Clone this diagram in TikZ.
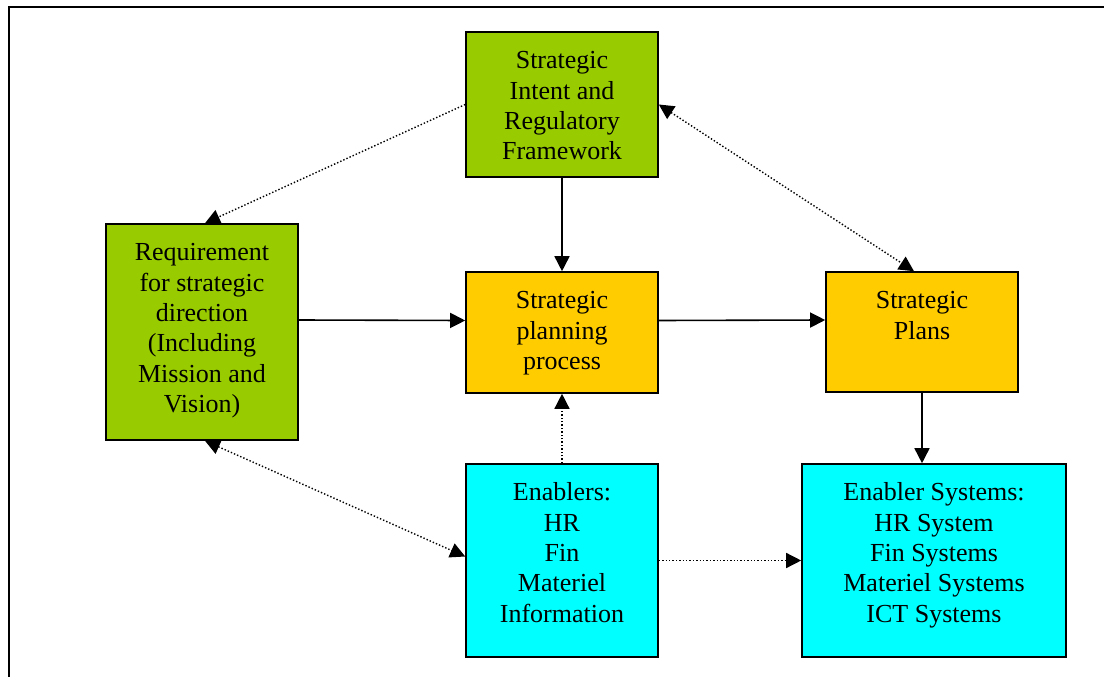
\documentclass[tikz,border=0pt]{standalone}
\usepackage{fontspec}
\setmainfont{Liberation Serif}
\usetikzlibrary{arrows.meta}
\definecolor{cgreen}{HTML}{99CC00}
\definecolor{corange}{HTML}{FFCC00}
\definecolor{ccyan}{HTML}{00FFFF}
\newcommand\fl{\rule{0pt}{20pt}}
\tikzset{
  box/.style={draw=black, line width=1.6pt, minimum width=#1, inner sep=0pt},
  txt/.style={anchor=north, inner sep=0pt, align=center, font=\fontsize{26}{30.3}\selectfont},
  arr/.style={line width=1.6pt, -{Triangle[length=15pt,width=15pt]}},
  darr/.style={line width=1.4pt, dash pattern=on 1.4pt off 2pt, -{Triangle[length=15pt,width=15pt]}},
  ddarr/.style={line width=1.4pt, dash pattern=on 1.4pt off 2pt, {Triangle[length=15pt,width=15pt]}-{Triangle[length=15pt,width=15pt]}},
}
\begin{document}
\begin{tikzpicture}[x=1pt,y=-1pt]
\useasboundingbox (0,0) rectangle (1104,677);
\draw[line width=2.2pt] (9,680) -- (9,7) -- (1106,7);
% boxes
\node[box=192pt, minimum height=145pt, fill=cgreen] (si) at (562,104.5) {};
\node[box=192pt, minimum height=216pt, fill=cgreen] (req) at (202,332) {};
\node[box=192pt, minimum height=121pt, fill=corange] (spp) at (562,332.5) {};
\node[box=192pt, minimum height=120pt, fill=corange] (sp) at (922,332) {};
\node[box=192pt, minimum height=193pt, fill=ccyan] (enab) at (562,560.5) {};
\node[box=264pt, minimum height=193pt, fill=ccyan] (es) at (934,560.5) {};
% texts
\node[txt] (sit) at ([yshift=-17.5pt]si.north) {\fl Strategic\\Intent and\\Regulatory\\Framework};
\node[txt] (reqt) at ([yshift=-17.5pt]req.north) {\fl Requirement\\for strategic\\direction\\(Including\\Mission and\\Vision)};
\node[txt] (sppt) at ([yshift=-17.5pt]spp.north) {\fl Strategic\\planning\\process};
\node[txt] (spt) at ([yshift=-17.5pt]sp.north) {\fl Strategic\\Plans};
\node[txt] (enabt) at ([yshift=-17.5pt]enab.north) {\fl Enablers:\\HR\\Fin\\Materiel\\Information};
\node[txt] (est) at ([yshift=-17.5pt]es.north) {\fl Enabler Systems:\\HR System\\Fin Systems\\Materiel Systems\\ICT Systems};
% connectors
\draw[arr] (si.south) -- (spp.north);
\draw[arr] ([yshift=12pt]req.east) -- ([yshift=12pt]spp.west);
\draw[arr] ([yshift=12pt]spp.east) -- ([yshift=12pt]sp.west);
\draw[arr] (sp.south) -- (sp.south |- es.north);
\draw[darr] (enab.north) -- (spp.south);
\draw[darr] (enab.east) -- (es.west);
\draw[darr] (si.west) -- ([xshift=3pt]req.north);
\draw[ddarr] (si.east) -- ([xshift=-8pt]sp.north);
\draw[ddarr] ([xshift=3pt]req.south) -- ([yshift=4pt]enab.west);
\end{tikzpicture}
\end{document}
